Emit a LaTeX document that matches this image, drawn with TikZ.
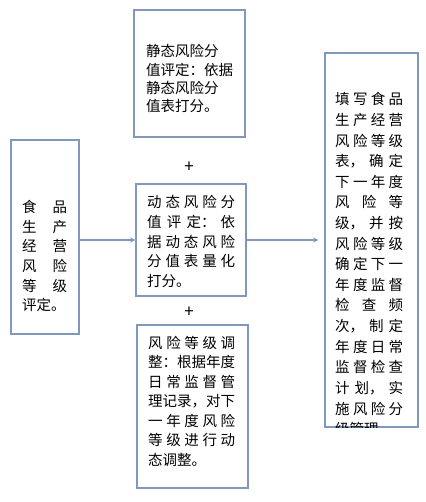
\documentclass[tikz,border=0pt]{standalone}
\usepackage{fontspec}
\setmainfont{Noto Sans CJK SC}
\usepackage{tikz}
\usetikzlibrary{positioning}
\definecolor{boxline}{RGB}{128,153,186}
\XeTeXlinebreaklocale "zh"
\XeTeXlinebreakskip=0pt plus 1pt
\newcommand{\loose}{\tolerance=10000\relax\hbadness=10000\relax}

\tikzset{
  box/.style={draw=boxline, line width=1.5pt, inner sep=0pt},
  txt/.style={inner sep=0pt, anchor=base west, align=justify,
    font=\fontsize{14.5}{19.5}\selectfont\loose},
  arr/.style={->, draw=boxline, line width=1.2pt},
  plus/.style={font=\fontsize{17}{18}\selectfont},
}

\begin{document}
\begin{tikzpicture}[>=stealth, x=1pt, y=-1pt]

\useasboundingbox (0,0) rectangle (425,502);

% boxes
\node[box, minimum width=68, minimum height=194] (rate)   at (45,237)    {};
\node[box, minimum width=111, minimum height=127] (static) at (189.5,73.5) {};
\node[box, minimum width=110, minimum height=112] (dyn)    at (191,240)   {};
\node[box, minimum width=111, minimum height=163] (adjust) at (192.5,406.5) {};
\node[box, minimum width=93, minimum height=374]  (plan)   at (371.5,240) {};

% texts
\node[txt, text width=45] (rateT) at (22,213)
  {食品\linebreak 生产\linebreak 经营\linebreak 风险\linebreak 等级\linebreak 评定。};
\node[txt, text width=90, align=left, font=\fontsize{14.5}{18.3}\selectfont] (staticT) at (146,57)
  {静态风险分\\值评定：依据\\静态风险分\\值表打分。};
\node[txt, text width=88] (dynT) at (147,208)
  {动态风险分\linebreak 值评定：依\linebreak 据动态风险\linebreak 分值表量化\linebreak 打分。};
\node[txt, text width=87] (adjustT) at (148,348)
  {风险等级调\linebreak 整：根据年度\linebreak 日常监督管\linebreak 理记录，对下\linebreak
   一年度风险\linebreak 等级进行动\linebreak 态调整。};

% right box text, cut at the border
\begin{scope}
\clip (plan.south west) rectangle (plan.north east);
\node[txt, text width=68, font=\fontsize{14.5}{20.6}\selectfont\loose] (planT) at (335,105)
  {填写食品\linebreak 生产经营\linebreak 风险等级\linebreak 表，确定\linebreak 下一年度\linebreak
   风险等\linebreak 级，并按\linebreak 风险等级\linebreak 确定下一\linebreak 年度监督\linebreak
   检查频\linebreak 次，制定\linebreak 年度日常\linebreak 监督检查\linebreak 计划，实\linebreak
   施风险分\linebreak 级管理};
\end{scope}

% plus signs
\node[plus] (plus1) at (189,167) {+};
\node[plus] (plus2) at (189,312) {+};

% arrows
\draw[arr] (rate.east |- dyn) -- (dyn.west);
\draw[arr] (dyn.east) -- ([xshift=-6pt]plan.west |- dyn);

\end{tikzpicture}
\end{document}
